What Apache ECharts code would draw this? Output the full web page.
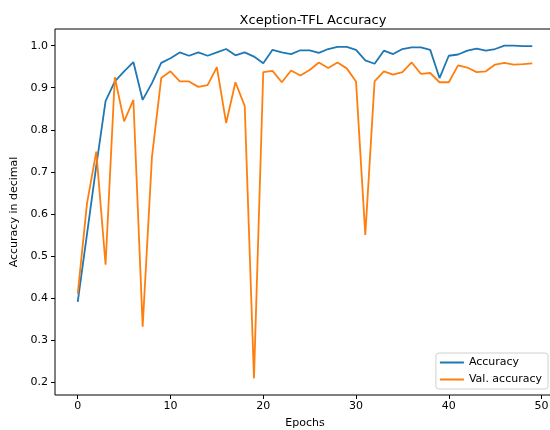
<!DOCTYPE html>
<html>
<head>
<meta charset="utf-8">
<script src="https://cdn.jsdelivr.net/npm/echarts@6/dist/echarts.min.js"></script>
<style>
  html, body { margin: 0; padding: 0; background: #fff; }
  #chart { width: 550px; height: 430px; }
</style>
</head>
<body>
<div id="chart"></div>
<script>
// data
const epochs = [0, 1, 2, 3, 4, 5, 6, 7, 8, 9,
  10, 11, 12, 13, 14, 15, 16, 17, 18, 19,
  20, 21, 22, 23, 24, 25, 26, 27, 28, 29,
  30, 31, 32, 33, 34, 35, 36, 37, 38, 39,
  40, 41, 42, 43, 44, 45, 46, 47, 48, 49];
const accuracy = [0.391, 0.552, 0.714, 0.868, 0.915, 0.939, 0.961, 0.871, 0.911, 0.959,
  0.970, 0.984, 0.976, 0.984, 0.976, 0.984, 0.992, 0.977, 0.984, 0.974,
  0.958, 0.990, 0.984, 0.980, 0.989, 0.989, 0.983, 0.992, 0.997, 0.997,
  0.990, 0.965, 0.957, 0.988, 0.980, 0.992, 0.996, 0.996, 0.990, 0.923,
  0.976, 0.979, 0.988, 0.993, 0.988, 0.992, 1.000, 1.000, 0.999, 0.999];
const valAccuracy = [0.410, 0.625, 0.748, 0.479, 0.925, 0.820, 0.871, 0.332, 0.735, 0.923,
  0.939, 0.915, 0.915, 0.902, 0.906, 0.949, 0.816, 0.913, 0.857, 0.209,
  0.937, 0.940, 0.913, 0.941, 0.929, 0.942, 0.960, 0.947, 0.960, 0.946,
  0.915, 0.550, 0.915, 0.939, 0.931, 0.937, 0.960, 0.933, 0.935, 0.913,
  0.913, 0.953, 0.948, 0.937, 0.939, 0.955, 0.959, 0.955, 0.956, 0.958];
const xTicks = [0, 10, 20, 30, 40, 50];
const yTicks = [0.2, 0.3, 0.4, 0.5, 0.6, 0.7, 0.8, 0.9, 1.0];

const font = 'DejaVu Sans';
const chart = echarts.init(document.getElementById('chart'));

// matplotlib-style 5% margins around the data
const xMin = -2.45, xMax = 51.45;
const yMin = 0.1694, yMax = 1.0396;

const pairs = (ys) => epochs.map((e, i) => [e, ys[i]]);

const option = {
  animation: false,
  textStyle: { fontFamily: font },
  title: {
    text: 'Xception-TFL Accuracy',
    left: 308,
    top: 9,
    textAlign: 'center',
    textStyle: { fontFamily: font, fontSize: 13, fontWeight: 'normal', color: '#000' }
  },
  grid: {
    left: 55,
    top: 29,
    width: 500,
    height: 366,
    outerBoundsMode: 'none',
    containLabel: false,
    show: true,
    borderColor: '#000',
    borderWidth: 1,
    backgroundColor: 'transparent'
  },
  legend: {
    orient: 'vertical',
    right: 2,
    bottom: 41,
    data: ['Accuracy', 'Val. accuracy'],
    icon: 'rect',
    itemWidth: 24,
    itemHeight: 2,
    itemGap: 6,
    padding: [4, 6, 4, 4],
    borderColor: '#d0d0d0',
    borderWidth: 1,
    borderRadius: 3,
    backgroundColor: 'rgba(255,255,255,0.8)',
    textStyle: { fontFamily: font, fontSize: 11, color: '#000' }
  },
  xAxis: {
    type: 'value',
    min: xMin,
    max: xMax,
    name: 'Epochs',
    nameLocation: 'middle',
    nameGap: 23,
    nameTextStyle: { fontFamily: font, fontSize: 11, color: '#000' },
    axisLine: { show: false, onZero: false },
    splitLine: { show: false },
    axisTick: { show: true, length: 4, customValues: xTicks, lineStyle: { color: '#000' } },
    axisLabel: {
      customValues: xTicks,
      margin: 6,
      fontFamily: font,
      fontSize: 11,
      color: '#000'
    }
  },
  yAxis: {
    type: 'value',
    min: yMin,
    max: yMax,
    name: 'Accuracy in decimal',
    nameLocation: 'middle',
    nameGap: 34,
    nameTextStyle: { fontFamily: font, fontSize: 11, color: '#000' },
    axisLine: { show: false, onZero: false },
    splitLine: { show: false },
    axisTick: { show: true, length: 4, customValues: yTicks, lineStyle: { color: '#000' } },
    axisLabel: {
      customValues: yTicks,
      margin: 7,
      fontFamily: font,
      fontSize: 11,
      color: '#000',
      formatter: (v) => v.toFixed(1)
    }
  },
  series: [
    {
      name: 'Accuracy',
      type: 'line',
      data: pairs(accuracy),
      symbol: 'none',
      color: '#1f77b4',
      lineStyle: { width: 1.8, color: '#1f77b4' }
    },
    {
      name: 'Val. accuracy',
      type: 'line',
      data: pairs(valAccuracy),
      symbol: 'none',
      color: '#ff7f0e',
      lineStyle: { width: 1.8, color: '#ff7f0e' }
    }
  ]
};

chart.setOption(option);
</script>
</body>
</html>
